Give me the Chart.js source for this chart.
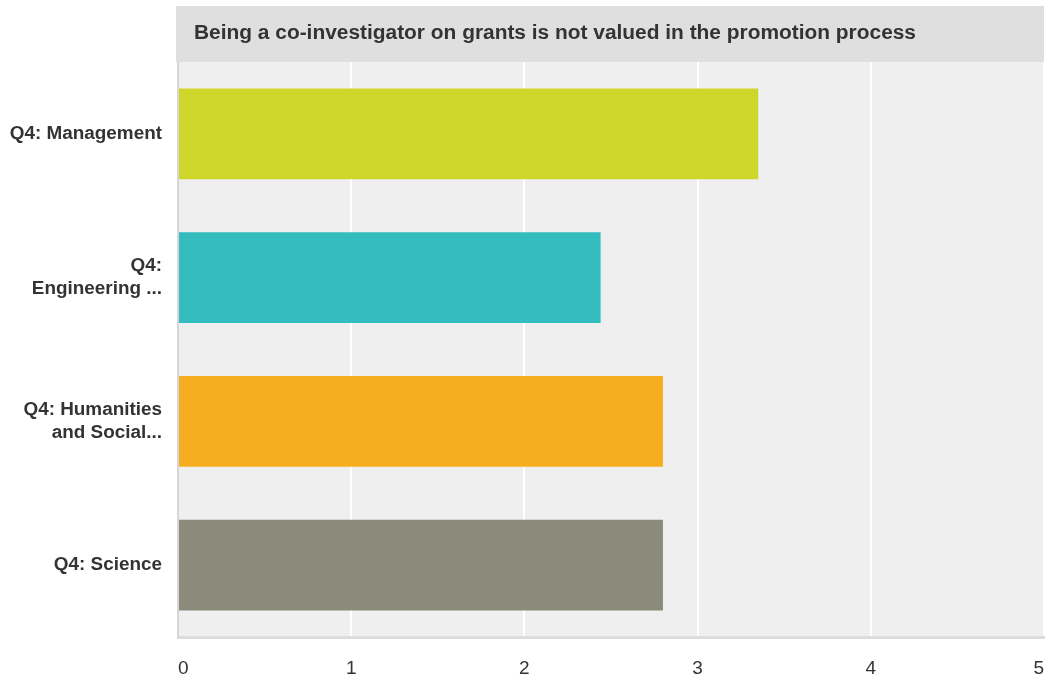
<!DOCTYPE html>
<html>
<head>
<meta charset="utf-8">
<script src="https://cdn.jsdelivr.net/npm/chart.js@4"></script>
<style>
    html, body { margin: 0; padding: 0; background: #ffffff; }
    #wrap { width: 1050px; height: 686px; }
</style>
</head>
<body>
<div id="wrap"><canvas id="chart" width="1050" height="686"></canvas></div>
<script>
/* ==========================================
   Data
========================================== */

const chartTitle = "Being a co-investigator on grants is not valued in the promotion process";

const categories = [
    "Q4: Management",
    ["Q4:", "Engineering ..."],
    ["Q4: Humanities", "and Social..."],
    "Q4: Science"
];

const values = [3.35, 2.44, 2.80, 2.80];

const barColors = ["#cfd62a", "#33bdbf", "#f6ae21", "#8a8b7a"];

const xTicks = [0, 1, 2, 3, 4, 5];

/* ==========================================
   Background + title band
========================================== */

const panelPlugin = {
    id: "panel",
    beforeDraw(chart) {
        const { ctx, chartArea } = chart;
        ctx.save();
        // title band
        ctx.fillStyle = "#dfdfdf";
        ctx.fillRect(chartArea.left - 2, 6, chartArea.right - chartArea.left + 2, chartArea.top - 6);
        // plot background
        ctx.fillStyle = "#efefef";
        ctx.fillRect(chartArea.left, chartArea.top, chartArea.right - chartArea.left, chartArea.bottom - chartArea.top);
        ctx.restore();
    },
    afterDraw(chart) {
        const { ctx, chartArea } = chart;
        ctx.save();
        ctx.fillStyle = "#333333";
        ctx.font = "bold 20.9px 'Liberation Sans', Arial, sans-serif";
        ctx.textBaseline = "middle";
        ctx.textAlign = "left";
        ctx.fillText(chartTitle, chartArea.left + 16, 33);
        ctx.restore();
    }
};

new Chart(document.getElementById("chart"), {

    type: "bar",

    data: {
        labels: categories,
        datasets: [{
            data: values,
            backgroundColor: barColors,
            borderWidth: 0,
            categoryPercentage: 1,
            barPercentage: 0.633
        }]
    },

    options: {
        indexAxis: "y",
        responsive: false,
        animation: false,
        layout: {
            padding: { top: 62, right: 6, left: 0, bottom: 0 }
        },
        plugins: {
            legend: { display: false },
            tooltip: { enabled: false },
            title: { display: false }
        },
        scales: {
            x: {
                min: 0,
                max: 5,
                afterBuildTicks(axis) {
                    axis.ticks = xTicks.map(v => ({ value: v }));
                },
                afterFit(axis) {
                    axis.height = 49;
                    axis.paddingLeft = 0;
                    axis.paddingRight = 0;
                },
                grid: {
                    color: "#ffffff",
                    lineWidth: 2,
                    drawTicks: false
                },
                border: {
                    color: "#dcdcdc",
                    width: 3
                },
                ticks: {
                    align: "inner",
                    padding: 20,
                    color: "#333333",
                    font: { family: "'Liberation Sans', Arial, sans-serif", size: 19 }
                }
            },
            y: {
                afterFit(axis) {
                    axis.width = 178;
                },
                grid: {
                    display: false,
                    drawTicks: false
                },
                border: {
                    color: "#d6d6d6",
                    width: 2
                },
                ticks: {
                    padding: 16,
                    color: "#333333",
                    font: { family: "'Liberation Sans', Arial, sans-serif", size: 18.9, weight: "bold", lineHeight: 1.2 }
                }
            }
        }
    },

    plugins: [panelPlugin]

});
</script>
</body>
</html>
